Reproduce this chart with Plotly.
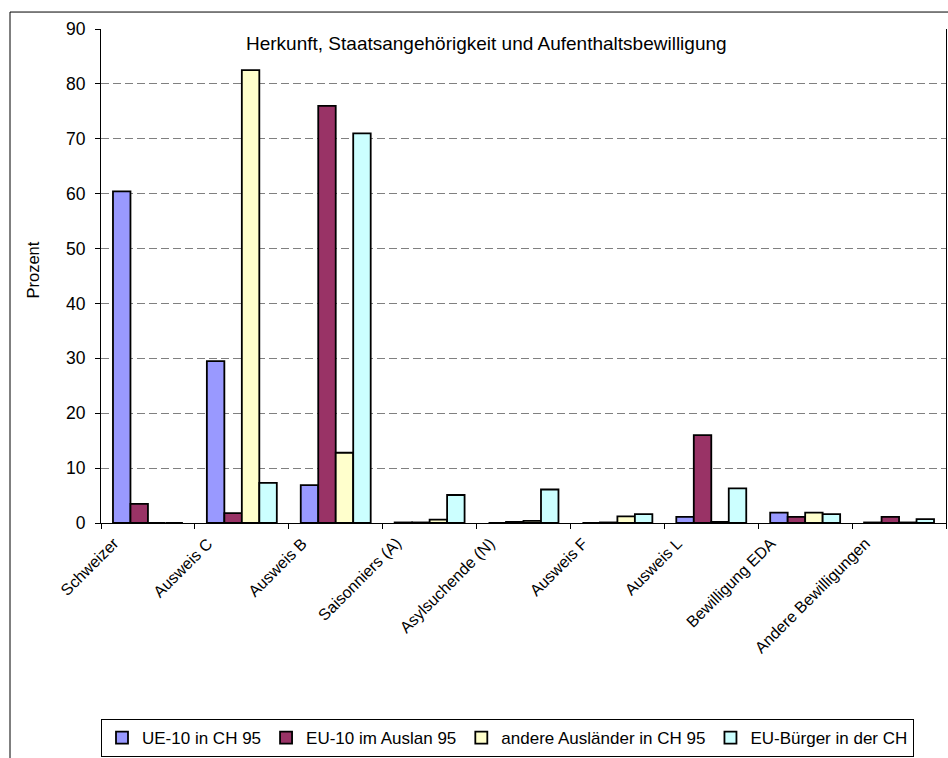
import plotly.graph_objects as go

categories = ["Schweizer", "Ausweis C", "Ausweis B", "Saisonniers (A)", "Asylsuchende (N)",
              "Ausweis F", "Ausweis L", "Bewilligung EDA", "Andere Bewilligungen"]
series_names = ["UE-10 in CH 95", "EU-10 im Auslan 95", "andere Ausländer in CH 95", "EU-Bürger in der CH"]
ue10_ch = [60.4, 29.5, 6.9, 0.1, 0.0, 0.0, 1.1, 1.9, 0.1]
eu10_ausland = [3.5, 1.8, 76.0, 0.1, 0.2, 0.1, 16.0, 1.1, 1.1]
andere_auslaender = [0.0, 82.5, 12.8, 0.6, 0.4, 1.2, 0.2, 1.9, 0.1]
eu_buerger = [0.0, 7.3, 71.0, 5.1, 6.1, 1.6, 6.3, 1.6, 0.7]
colors = ["#9999FF", "#993366", "#FFFFCC", "#CCFFFF"]
y_ticks = [0, 10, 20, 30, 40, 50, 60, 70, 80, 90]

FONT = "Liberation Sans, Arial, sans-serif"

fig = go.Figure()
for name, vals, col in zip(series_names, [ue10_ch, eu10_ausland, andere_auslaender, eu_buerger], colors):
    fig.add_trace(go.Bar(x=categories, y=vals, name=name,
                         marker=dict(color=col, line=dict(color="black", width=1.8))))

W, H = 948, 758
L, R, T, B = 101, 2, 29, 234
pw, ph = W - L - R, H - T - B

def px_x(x):
    return (x - L) / pw

def px_y(y):
    return (H - B - y) / ph

annotations = [
    dict(text="Herkunft, Staatsangehörigkeit und Aufenthaltsbewilligung",
         xref="paper", yref="paper", x=px_x(486), y=px_y(44), showarrow=False,
         xanchor="center", yanchor="middle", font=dict(size=19, family=FONT)),
    dict(text="Prozent", xref="paper", yref="paper", x=px_x(33), y=px_y(271),
         showarrow=False, textangle=-90, xanchor="center", yanchor="middle",
         font=dict(size=16.5, family=FONT)),
]
for cat in categories:
    annotations.append(dict(text=cat, xref="x", yref="paper", x=cat, y=px_y(533),
                            xshift=-23, showarrow=False, textangle=-45,
                            xanchor="right", yanchor="top",
                            font=dict(size=16, family=FONT)))

fig.update_layout(
    width=W, height=H,
    margin=dict(l=L, r=R, t=T, b=B, pad=0),
    paper_bgcolor="white", plot_bgcolor="white",
    barmode="group", bargap=0.255, bargroupgap=0,
    font=dict(family=FONT, size=17, color="black"),
    showlegend=True,
    legend=dict(orientation="h", x=0, xanchor="left", y=px_y(719), yanchor="top",
                bordercolor="black", borderwidth=1, bgcolor="white",
                font=dict(size=17, family=FONT), itemwidth=30,
                tracegroupgap=0),
    xaxis=dict(type="category", range=[-0.5, len(categories) - 0.5], autorange=False,
               showline=True, linecolor="black", linewidth=1,
               ticks="outside", tickson="boundaries", ticklen=5, tickcolor="black",
               showticklabels=False, showgrid=False),
    yaxis=dict(range=[0, 90], tickvals=y_ticks, showline=True, linecolor="black", linewidth=1,
               mirror=True, ticks="outside", ticklen=5, tickcolor="black",
               ticklabelstandoff=6,
               tickfont=dict(size=17.5, family=FONT),
               showgrid=True, gridcolor="#808080", gridwidth=1, griddash="8px,4px",
               zeroline=False),
    annotations=annotations,
    shapes=[
        dict(type="line", xref="paper", yref="paper", x0=px_x(10), x1=px_x(10),
             y0=px_y(12), y1=px_y(770), line=dict(color="black", width=1)),
        dict(type="line", xref="paper", yref="paper", x0=px_x(10), x1=px_x(960),
             y0=px_y(12), y1=px_y(12), line=dict(color="black", width=1)),
    ],
)

fig.write_html("out.html", config={"displayModeBar": False},
               post_script="document.body.style.margin='0';document.body.style.overflow='hidden';")
